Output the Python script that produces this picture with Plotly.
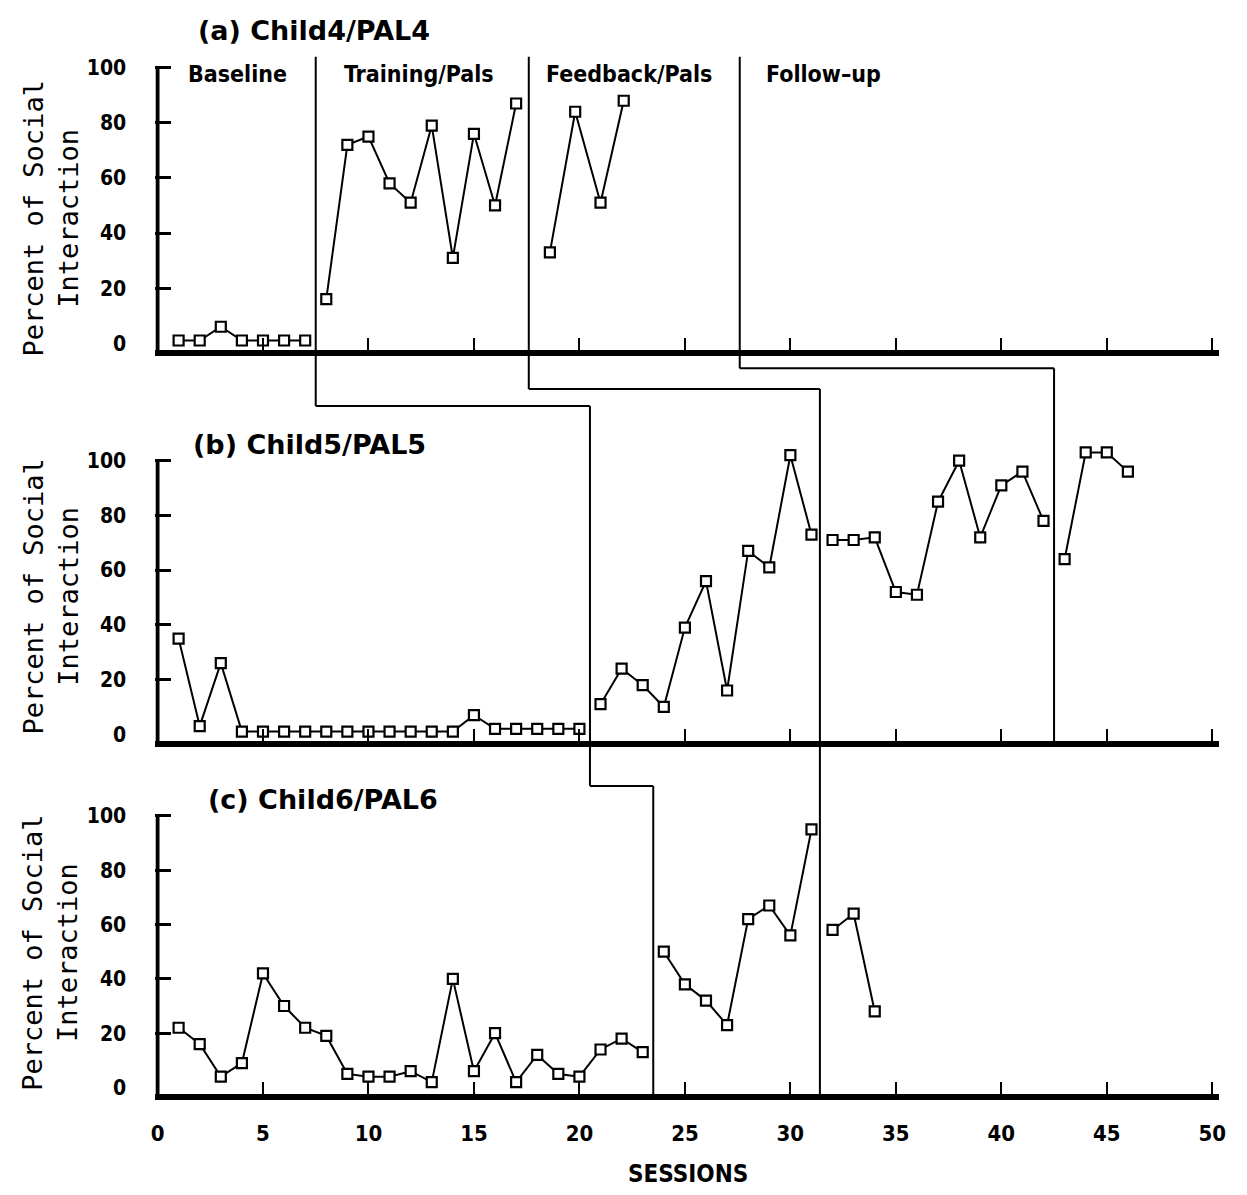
import plotly.graph_objects as go

W, H = 1247, 1195

# ---------------- data ----------------
sessions_a_base = [1, 2, 3, 4, 5, 6, 7]
pct_a_base = [1, 1, 6, 1, 1, 1, 1]
sessions_a_train = [8, 9, 10, 11, 12, 13, 14, 15, 16, 17]
pct_a_train = [16, 72, 75, 58, 51, 79, 31, 76, 50, 87]
sessions_a_feed = [18.6, 19.8, 21.0, 22.1]
pct_a_feed = [33, 84, 51, 88]

sessions_b_base = list(range(1, 21))
pct_b_base = [35, 3, 26, 1, 1, 1, 1, 1, 1, 1, 1, 1, 1, 1, 7, 2, 2, 2, 2, 2]
sessions_b_train = list(range(21, 32))
pct_b_train = [11, 24, 18, 10, 39, 56, 16, 67, 61, 102, 73]
sessions_b_feed = list(range(32, 43))
pct_b_feed = [71, 71, 72, 52, 51, 85, 100, 72, 91, 96, 78]
sessions_b_follow = [43, 44, 45, 46]
pct_b_follow = [64, 103, 103, 96]

sessions_c_base = list(range(1, 24))
pct_c_base = [22, 16, 4, 9, 42, 30, 22, 19, 5, 4, 4, 6, 2, 40, 6, 20, 2, 12, 5, 4, 14, 18, 13]
sessions_c_train = list(range(24, 32))
pct_c_train = [50, 38, 32, 23, 62, 67, 56, 95]
sessions_c_feed = [32, 33, 34]
pct_c_feed = [58, 64, 28]

phase_a = [7.5, 17.6, 27.6]
phase_b = [20.5, 31.4, 42.5]
phase_c = [23.5, 31.4]

panel_titles = ["(a) Child4/PAL4", "(b) Child5/PAL5", "(c) Child6/PAL6"]
phase_labels = ["Baseline", "Training/Pals", "Feedback/Pals", "Follow\u2013up"]
y_tick_vals = [0, 20, 40, 60, 80, 100]
y_tick_text = ["0", "20", "40", "60", "80", "100"]
x_tick_vals = [0, 5, 10, 15, 20, 25, 30, 35, 40, 45, 50]
x_tick_text = ["0", "5", "10", "15", "20", "25", "30", "35", "40", "45", "50"]
y_title = "Percent of Social<br>Interaction"
x_title = "SESSIONS"

# ---------------- layout helpers ----------------
def px_x(px):
    return px / W

def px_y(py):
    return 1 - py / H

X_RANGE = [-0.1, 50.3]
Y_RANGE = [-2.5, 104.5]
X0_PX, X50_PX = 154, 1219
unit_x = (X50_PX - X0_PX) / 50.0
x_domain = [px_x(X0_PX + X_RANGE[0] * unit_x), px_x(X0_PX + X_RANGE[1] * unit_x)]

# (py of value 0, py of value 100) per panel
panel_px = [(345, 68), (738, 463), (1093, 820)]

def y_domain(p0, p100):
    u = (p0 - p100) / 100.0
    bottom = p0 - Y_RANGE[0] * u
    top = p0 - Y_RANGE[1] * u
    return [px_y(bottom), px_y(top)]

NARROW = "DejaVu Sans Condensed, DejaVu Sans, sans-serif"
TITLEF = "DejaVu Sans, sans-serif"
MONO = "DejaVu Sans Mono, Liberation Mono, monospace"

fig = go.Figure()

series = [
    (1, sessions_a_base, pct_a_base), (1, sessions_a_train, pct_a_train), (1, sessions_a_feed, pct_a_feed),
    (2, sessions_b_base, pct_b_base), (2, sessions_b_train, pct_b_train), (2, sessions_b_feed, pct_b_feed),
    (2, sessions_b_follow, pct_b_follow),
    (3, sessions_c_base, pct_c_base), (3, sessions_c_train, pct_c_train), (3, sessions_c_feed, pct_c_feed),
]
for k, xs, ys in series:
    sfx = "" if k == 1 else str(k)
    fig.add_trace(go.Scatter(
        x=xs, y=ys, mode="lines+markers", xaxis="x" + sfx, yaxis="y" + sfx,
        line=dict(color="black", width=2),
        marker=dict(symbol="square", size=10, color="white", line=dict(color="black", width=2.2)),
        cliponaxis=False, showlegend=False, hoverinfo="skip",
    ))

layout = dict(
    width=W, height=H, autosize=False,
    margin=dict(l=0, r=0, t=0, b=0),
    paper_bgcolor="white", plot_bgcolor="white",
    showlegend=False,
)

for k in (1, 2, 3):
    sfx = "" if k == 1 else str(k)
    p0, p100 = panel_px[k - 1]
    layout["xaxis" + sfx] = dict(
        domain=x_domain, range=X_RANGE, anchor="y" + sfx,
        showline=True, linewidth=6, linecolor="black", mirror=False,
        ticks="inside", ticklen=12, tickwidth=2, tickcolor="black",
        tickmode="array", tickvals=x_tick_vals, ticktext=x_tick_text,
        showticklabels=(k == 3), ticklabelstandoff=14,
        tickfont=dict(family=NARROW, size=22, color="black", weight="bold"),
        showgrid=False, zeroline=False, fixedrange=True,
    )
    layout["yaxis" + sfx] = dict(
        domain=y_domain(p0, p100), range=Y_RANGE, anchor="x" + sfx,
        showline=False, ticks="outside", ticklen=0, tickwidth=0,
        tickmode="array", tickvals=y_tick_vals, ticktext=y_tick_text,
        ticklabelstandoff=24,
        tickfont=dict(family=NARROW, size=21, color="black", weight="bold"),
        minor=dict(tickmode="array", tickvals=[20, 40, 60, 80, 100], ticks="inside",
                   ticklen=16, tickwidth=3, tickcolor="black"),
        showgrid=False, zeroline=False, fixedrange=True,
    )

shapes = []
# y axis lines (from bottom of range up to 100)
for k in (1, 2, 3):
    sfx = "" if k == 1 else str(k)
    shapes.append(dict(type="line", xref="x" + sfx, yref="y" + sfx, x0=0, x1=0,
                       y0=Y_RANGE[0], y1=100, line=dict(color="black", width=4)))

def seg(xref, x0, x1, py0, py1, w=2):
    shapes.append(dict(type="line", xref=xref, yref="paper", x0=x0, x1=x1,
                       y0=px_y(py0), y1=px_y(py1), line=dict(color="black", width=w)))

TOP_A = 57
# Training staircase
seg("x", phase_a[0], phase_a[0], TOP_A, 408)
seg("x", phase_a[0], phase_b[0], 408, 408)
seg("x2", phase_b[0], phase_b[0], 408, 790)
seg("x2", phase_b[0], phase_c[0], 790, 790)
seg("x3", phase_c[0], phase_c[0], 790, 1100)
# Feedback staircase
seg("x", phase_a[1], phase_a[1], TOP_A, 391)
seg("x", phase_a[1], phase_b[1], 391, 391)
seg("x2", phase_b[1], phase_b[1], 391, 745)
seg("x3", phase_c[1], phase_c[1], 745, 1100)
# Follow-up staircase
seg("x", phase_a[2], phase_a[2], TOP_A, 370)
seg("x", phase_a[2], phase_b[2], 370, 370)
seg("x2", phase_b[2], phase_b[2], 370, 745)
layout["shapes"] = shapes

ann = []
title_pos = [(193, 31), (188, 447), (203, 804)]
for t, (px, py) in zip(panel_titles, title_pos):
    ann.append(dict(text=t, xref="paper", yref="paper", x=px_x(px), y=px_y(py),
                    xanchor="left", yanchor="middle", showarrow=False,
                    font=dict(family=TITLEF, size=27, color="black", weight="bold")))

label_pos = [(235, 74), (418, 74), (630, 74), (826, 74)]
for t, (px, py) in zip(phase_labels, label_pos):
    ann.append(dict(text=t, xref="paper", yref="paper", x=px_x(px), y=px_y(py),
                    xanchor="center", yanchor="middle", showarrow=False,
                    font=dict(family=NARROW, size=23, color="black", weight="bold")))

for py in (220, 600, 958):
    ann.append(dict(text=y_title, xref="paper", yref="paper", x=px_x(46), y=px_y(py),
                    xanchor="center", yanchor="middle", textangle=-90, showarrow=False,
                    font=dict(family=MONO, size=27, color="black")))

ann.append(dict(text=x_title, xref="paper", yref="paper", x=px_x(690), y=px_y(1180),
                xanchor="center", yanchor="middle", showarrow=False,
                font=dict(family=NARROW, size=24, color="black", weight="bold")))
layout["annotations"] = ann

fig.update_layout(**layout)

fig.write_html("out.html", config={"displayModeBar": False},
               post_script="document.body.style.margin='0';document.body.style.overflow='hidden';")
